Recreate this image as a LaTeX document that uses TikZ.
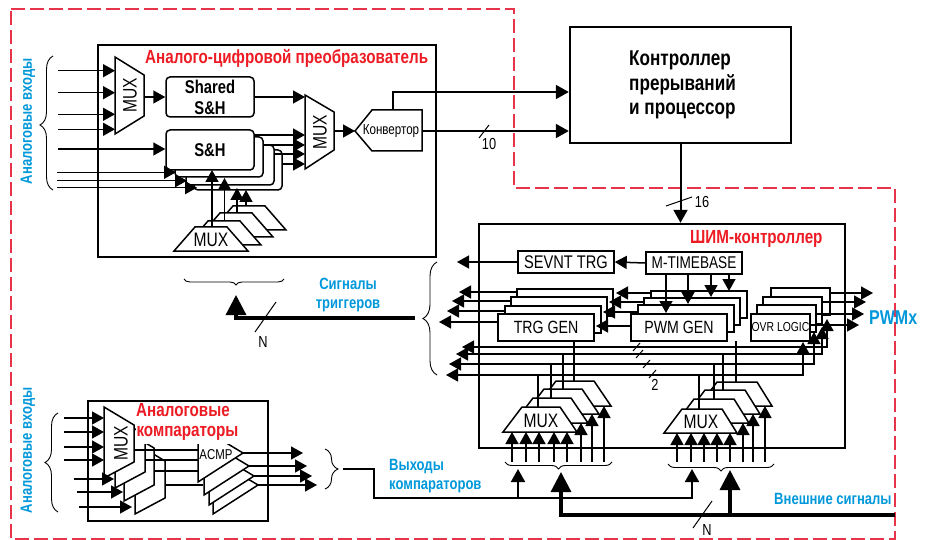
\documentclass[tikz,border=0pt]{standalone}
\usepackage{fontspec}
\newfontfamily\condfont[FakeStretch=0.8]{Liberation Sans}
\usetikzlibrary{arrows.meta,decorations.pathreplacing}
\definecolor{rahmenrot}{RGB}{232,52,74}
\definecolor{titelrot}{RGB}{237,28,36}
\definecolor{textblau}{RGB}{0,152,218}
\tikzset{
  sarr/.style={line width=1.5pt,-{Triangle[length=12pt,width=13pt]}},
  barr/.style={line width=1.5pt,{Triangle[length=12pt,width=13pt]}-{Triangle[length=12pt,width=13pt]}},
  darr/.style={line width=2pt,-{Triangle[length=13pt,width=14pt]}},
  bigarr/.style={line width=3.2pt,-{Triangle[length=20pt,width=20pt]}},
  leit/.style={line width=1.5pt},
  mblock/.style={draw,line width=1.5pt,fill=white},
  block/.style={draw,line width=2.4pt},
  genbox/.style={draw,line width=1.5pt,fill=white,inner sep=0pt,minimum width=96pt,minimum height=27pt,font=\condfont\fontsize{17.7}{19}\selectfont},
  timerbox/.style={genbox,font=\condfont\fontsize{17}{18}\selectfont},
  ovrbox/.style={genbox,minimum width=59pt,font=\condfont\fontsize{13}{14}\selectfont},
  shbox/.style={draw,line width=1.5pt,fill=white,rounded corners=4pt,inner sep=0pt,minimum width=88pt,minimum height=40pt,align=center,font=\condfont\bfseries\fontsize{18.5}{21}\selectfont},
  muxlab/.style={font=\condfont\fontsize{19.5}{21}\selectfont,inner sep=0pt},
  strich/.style={line width=1pt},
  klammer/.style={line width=0.9pt,decorate},
  zahl/.style={font=\condfont\fontsize{16}{18}\selectfont,inner sep=0pt},
  titel/.style={text=titelrot,inner sep=0pt,font=\condfont\bfseries\fontsize{19}{21}\selectfont},
  blautext/.style={text=textblau,inner sep=0pt,align=center,font=\condfont\bfseries\fontsize{16.3}{19}\selectfont}
}
\begin{document}
\begin{tikzpicture}[x=1pt,y=-1pt]
  \useasboundingbox (0,0) rectangle (929,540);

  % Gestrichelter Rahmen
  \draw[rahmenrot,line width=1.2pt,dash pattern=on 14pt off 5pt]
  (11,9) -- (514,9) -- (514,188) -- (895,188) -- (895,539) -- (11,539) -- cycle;

  % Bloecke
  \node[block,inner sep=0pt,minimum width=338pt,minimum height=212pt] (adc) at (267,151) {};
  \node[block,inner sep=0pt,minimum width=221pt,minimum height=116pt] (cpu) at (680.5,85) {};
  \node[block,inner sep=0pt,minimum width=366pt,minimum height=224pt] (pwm) at (662,336) {};
  \node[block,inner sep=0pt,minimum width=180pt,minimum height=120pt] (cmp) at (178,461) {};

  \node[titel,anchor=west] (adctitel) at (145,58) {Аналого-цифровой преобразователь};
  \node[anchor=west,align=left,inner sep=0pt,font=\condfont\bfseries\fontsize{21.4}{24.5}\selectfont] (cputext) at (629,85)
  {Контроллер\\прерываний\\и процессор};
  \node[titel,anchor=west] (pwmtitel) at (690,239) {ШИМ-контроллер};

  % ADC: MUX links
  \draw[mblock] (115,57) -- (144,75) -- (144,116) -- (115,134) -- cycle;
  \node[muxlab,rotate=90] (muxatext) at (130,95) {MUX};
  \coordinate (muxa) at (115,95);
  \foreach \i/\yy in {1/70.7, 2/92.7, 3/114.3, 4/129.3} {
      \coordinate (adcin\i) at (58,\yy);
      \draw[sarr] (adcin\i) -- (adcin\i -| muxa);
    }

  % ADC: Shared S&H und S&H-Stapel
  \node[shbox] (shared) at (210,97) {Shared\\S\&H};
  \draw[sarr] (144,97) -- (shared.west);
  \foreach \i/\dx/\dy in {3/28/20, 2/20/15, 1/9/7} {
      \node[shbox] (sh\i) at ({210+\dx},{150+\dy}) {};
    }
  \node[shbox] (sh0) at (210,150) {S\&H};
  \coordinate (shin0) at (58,149);
  \draw[sarr] (shin0) -- (shin0 -| sh0.west);
  \foreach \i/\yy/\xx in {1/172.3/176, 2/180.7/187, 3/187.7/197} {
      \coordinate (shin\i) at (57,\yy);
      \coordinate (shend\i) at (\xx,\yy);
      \draw[sarr] (shin\i) -- (shend\i);
    }

  % ADC: MUX rechts und Konvertor
  \draw[mblock] (305,95) -- (334,112) -- (334,150) -- (305,169) -- cycle;
  \node[muxlab,rotate=90] (muxbtext) at (320,132) {MUX};
  \coordinate (muxb) at (305,132);
  \draw[sarr] (shared.east) -- (shared.east -| muxb);
  \foreach \i/\yy in {0/135, 1/145, 2/154, 3/164} {
      \coordinate (shout\i) at (sh\i.east |- 0,\yy);
      \draw[sarr] (shout\i) -- (shout\i -| muxb);
    }
  \draw[mblock] (355,131) -- (372,110) -- (422,110) -- (422,151) -- (372,151) -- cycle;
  \node[inner sep=0pt,font=\condfont\fontsize{14.5}{16}\selectfont] (conv) at (391,131) {Конвертор};
  \coordinate (convtip) at (355,131);
  \draw[sarr] (334,131) -- (convtip);
  \coordinate (convout) at (422,131);
  \coordinate (convtop) at (393,110);
  \draw[darr] (convtop) |- (cpu.west |- 0,92);
  \draw[darr] (convout) -- (cpu.west |- convout);
  \draw[strich] (479,138) -- (489,125);
  \node[zahl] (n10) at (489,144) {10};

  % ADC: MUX-Stapel unten
  \foreach \dx/\dy in {38/-21, 25/-14, 13/-6, 0/0} {
      \draw[mblock,shift={(\dx,\dy)}] (174,251) -- (195,227) -- (227,227) -- (248,251) -- cycle;
    }
  \node[muxlab] (muxctext) at (211,240) {MUX};
  \foreach \xx/\yA/\yB in {212/227/170, 224.5/221/178, 237/212/188, 246/206/190} {
      \draw[sarr] (\xx,\yA) -- (\xx,\yB);
    }

  % Eingaenge links, Klammern
  \draw[klammer,decoration={brace,amplitude=13pt,aspect=0.485}] (53,190) -- (53,56);
  \node[blautext,rotate=90] (adcein) at (28,121) {Аналоговые входы};

  % Zentraler Ausgang nach PWM
  \draw[darr] (cpu.south) -- (cpu.south |- pwm.north);
  \draw[strich] (666,206) -- (692,197);
  \node[zahl] (n16) at (702,202) {16};

  % PWM: obere Zeile
  \node[genbox,minimum height=22pt,font=\condfont\fontsize{18.3}{20}\selectfont] (sevnt) at (566,262) {SEVNT TRG};
  \node[timerbox,minimum height=22pt] (mtime) at (694,263) {M-TIMEBASE};
  \draw[sarr] (mtime.west) -- (sevnt.east);
  \coordinate (sevntout) at (457,262);
  \draw[sarr] (sevnt.west) -- (sevntout);

  % PWM: Generatoren
  \foreach \i/\dx/\dy in {3/19/-25, 2/13/-17, 1/7/-8} {
      \node[genbox] (trg\i) at ({546+\dx},{327.5+\dy}) {};
    }
  \node[genbox] (trg0) at (546,327.5) {TRG GEN};
  \foreach \i/\dx/\dy in {3/20/-23, 2/13/-16, 1/7/-9} {
      \node[genbox] (gen\i) at ({679+\dx},{327.5+\dy}) {};
    }
  \node[genbox] (gen0) at (679,327.5) {PWM GEN};
  \foreach \i/\dx/\dy in {3/20/-26, 2/12/-17, 1/6/-9} {
      \node[ovrbox] (ovr\i) at ({780.5+\dx},{327.5+\dy}) {};
    }
  \node[ovrbox] (ovr0) at (780.5,327.5) {OVR LOGIC};

  % PWM: Pfeile der Generatoren
  \foreach \i/\yy/\xx in {3/292/459, 2/301/452, 1/311/447, 0/322/439} {
      \coordinate (trgout\i) at (\xx,\yy);
      \draw[sarr] (trg\i.west |- trgout\i) -- (trgout\i);
    }
  \foreach \i/\yy/\xx in {3/293/616, 2/302/609, 1/312/603, 0/326/596} {
      \coordinate (genout\i) at (\xx,\yy);
      \draw[sarr] (gen\i.west |- genout\i) -- (genout\i);
    }
  \foreach \i/\yy/\xx in {3/293/873, 2/302/866, 1/314/864, 0/325/859} {
      \coordinate (ovrout\i) at (\xx,\yy);
      \draw[sarr] (ovr\i.east |- ovrout\i) -- (ovrout\i);
    }
  \foreach \xx/\yy in {666/313, 688/304, 711/297, 729/291} {
      \coordinate (timeend) at (\xx,\yy);
      \draw[sarr] (mtime.south -| timeend) -- (timeend);
    }

  % PWM: Busleitungen
  \foreach \i/\yy/\xl/\xr/\yt in {1/347/462/827/319, 2/354/456/822/327, 3/364/449/814/332, 4/375/446/803/342} {
      \coordinate (busl\i) at (\xl,\yy);
      \coordinate (ovrt\i) at (\xr,\yt);
      \draw[barr] (busl\i) -- (ovrt\i |- busl\i) -- (ovrt\i);
    }
  \foreach \xx/\yy in {633/351, 636/358, 643/368, 649/378} {
      \draw[strich] (\xx,\yy) -- ++(7,-8);
    }
  \node[zahl] (n2) at (655,385) {2};

  % PWM: MUX-Stapel
  \foreach \dx/\dy in {34/-26, 22/-18, 11/-9, 0/0} {
      \draw[mblock,shift={(\dx,\dy)}] (503,432) -- (522,407) -- (560,407) -- (577,432) -- cycle;
    }
  \foreach \dx/\dy in {35/-27, 23/-19, 12/-10, 0/0} {
      \draw[mblock,shift={(\dx,\dy)}] (664,433) -- (682,409) -- (722,409) -- (737,433) -- cycle;
    }
  \node[muxlab] (muxdtext) at (541,421) {MUX};
  \node[muxlab] (muxetext) at (701,422) {MUX};
  \foreach \xx/\yA/\yB in {538/375/407, 551/364/398, 563/354/389, 574/341/381, 699/375/409, 714/364/399, 723/354/390, 736/341/382} {
      \draw[leit] (\xx,\yA) -- (\xx,\yB);
    }
  \foreach \xx/\yy in {512/432, 526/432, 539/432, 554/432, 567/432, 581/423, 592/414, 604/406, 677/433, 691/433, 704/433, 717/433, 730/433, 743/423, 753/414, 765/406} {
      \draw[sarr] (\xx,462) -- (\xx,\yy);
    }
  \draw[klammer,decoration={brace,amplitude=7pt}] (612,462) -- (505,462);
  \draw[klammer,decoration={brace,amplitude=7pt}] (774,464) -- (668,464);

  % Externe Signale
  \coordinate (extein) at (895,515);
  \coordinate (extmuxa) at (561,472);
  \coordinate (extmuxb) at (730,470);
  \draw[line width=3.2pt] (extein) -- (561,515);
  \draw[bigarr] (561,516.6) -- (extmuxa);
  \draw[bigarr] (extmuxb |- extein) -- (extmuxb);
  \draw[strich] (693,528) -- (712,501);
  \node[zahl] (nb) at (707,530) {N};
  \node[blautext,anchor=west] (extlab) at (774,499) {Внешние сигналы};

  % Sigale der Trigger
  \draw[klammer,decoration={brace,amplitude=14pt}] (437,375) -- (437,262);
  \draw[klammer,decoration={brace,amplitude=6pt,aspect=0.48}] (284,279) -- (184,279);
  \coordinate (trigin) at (415,318);
  \coordinate (trigend) at (236,295);
  \draw[bigarr] (trigin) -| (trigend);
  \draw[strich] (255,332) -- (276,302);
  \node[zahl] (na) at (263,342) {N};
  \node[blautext] (triglab) at (348,295) {Сигналы\\триггеров};

  % Komparatoren: MUX-Stapel
  \foreach \dx/\dy in {31/36, 20/23, 11/10, 0/0} {
      \draw[mblock,shift={(\dx,\dy)}] (104,407) -- (134,425) -- (134,462) -- (104,478) -- cycle;
    }
  \node[muxlab,rotate=90] (muxftext) at (121,443) {MUX};
  \coordinate (muxf) at (104,440);
  \foreach \i/\yy in {1/418, 2/432, 3/447, 4/460} {
      \coordinate (cmpin\i) at (64,\yy);
      \draw[sarr] (cmpin\i) -- (cmpin\i -| muxf);
    }
  \foreach \xA/\yy/\xB in {74/479/114, 77/492/123, 79/507/132} {
      \draw[sarr] (\xA,\yy) -- (\xB,\yy);
    }

  % Komparatoren: ACMP-Stapel
  \foreach \dx/\dy in {15/32, 11/23, 6/13, 0/0} {
      \draw[mblock,shift={(\dx,\dy)}] (198,426) -- (243,453) -- (198,482) -- cycle;
    }
  \foreach \xA/\yy/\xB in {134/450/198, 145/460/198, 154/471/198, 165/485/203} {
      \draw[line width=2pt] (\xA,\yy) -- (\xB,\yy);
    }
  \node[inner sep=0pt,font=\condfont\fontsize{14.3}{16}\selectfont] (acmp) at (216,455) {ACMP};
  \foreach \xA/\yy/\xB in {243/453/303, 249/466/307, 254/476/312, 258/485/317} {
      \draw[sarr] (\xA,\yy) -- (\xB,\yy);
    }
  \node[titel,anchor=west] (cmptitel) at (136,410) {Аналоговые};
  \node[titel,fill=white,minimum width=103pt,minimum height=22pt] (cmptitelb) at (187.5,433) {компараторы};

  % Komparatoren: Klammern und Ausgang
  \draw[klammer,decoration={brace,amplitude=13pt}] (58,512) -- (58,413);
  \node[blautext,rotate=90] (cmpein) at (28,450) {Аналоговые входы};
  \draw[klammer,decoration={brace,amplitude=13pt}] (325,449) -- (325,489);
  \coordinate (cmpaus) at (343,469);
  \draw[line width=2pt] (cmpaus) -- (374,469) -- (374,498) -- (692,498);
  \draw[darr] (518,498) -- (518,469);
  \draw[darr] (692,499) -- (692,469);
  \node[blautext,anchor=west,align=left] (cmplab) at (389,476) {Выходы\\компараторов};

  % PWMx
  \node[text=textblau,inner sep=0pt,anchor=west,font=\condfont\bfseries\fontsize{20}{22}\selectfont] (pwmx) at (869,318) {PWMx};

\end{tikzpicture}
\end{document}
